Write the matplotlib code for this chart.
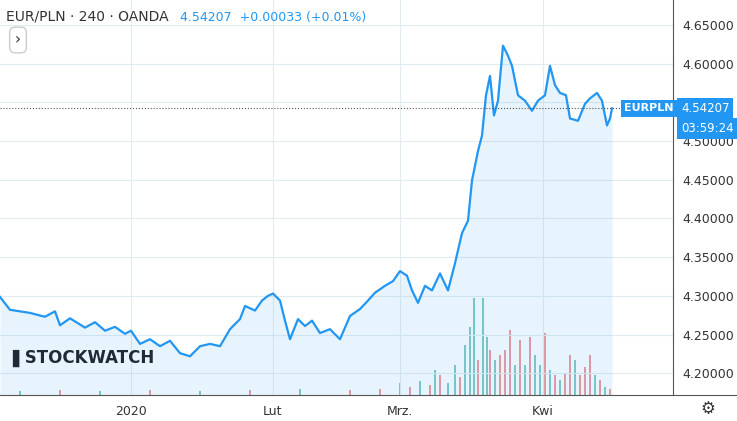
import matplotlib.pyplot as plt
import numpy as np

# 4h-bar index and EUR/PLN close
bar_idx = [0, 10, 30, 45, 55, 60, 70, 85, 95, 105, 115, 125, 131, 140, 150, 160, 170, 180, 190, 200,
           210, 220, 230, 240, 245, 255, 262, 268, 273, 280, 285, 290, 298, 305, 312, 320, 330, 340, 350, 360,
           368, 375, 385, 393, 400, 407, 412, 418, 425, 432, 440, 448, 455, 462, 468, 472, 478, 482, 486, 490,
           494, 498, 503, 508, 512, 518, 525, 532, 538, 545, 550, 555, 560, 566, 570, 578, 585, 590, 597, 602,
           607, 610, 612]
price = [4.2986, 4.282, 4.278, 4.273, 4.280, 4.262, 4.271, 4.259, 4.266, 4.255, 4.260, 4.251, 4.255, 4.238, 4.244, 4.235, 4.242, 4.226, 4.222, 4.235,
         4.238, 4.235, 4.257, 4.270, 4.287, 4.281, 4.294, 4.300, 4.303, 4.294, 4.268, 4.244, 4.270, 4.261, 4.268, 4.252, 4.257, 4.244, 4.274, 4.283,
         4.294, 4.304, 4.313, 4.319, 4.332, 4.326, 4.307, 4.291, 4.313, 4.307, 4.329, 4.307, 4.342, 4.381, 4.397, 4.449, 4.487, 4.507, 4.559, 4.584,
         4.533, 4.552, 4.623, 4.610, 4.597, 4.559, 4.552, 4.539, 4.552, 4.559, 4.597, 4.572, 4.562, 4.559, 4.529, 4.526, 4.548, 4.555, 4.562, 4.552,
         4.520, 4.529, 4.54207]

# volume (arbitrary units) and candle direction (1 up / 0 down)
vol_idx = [20, 60, 100, 150, 200, 250, 300, 350, 380, 400, 410, 420, 430, 435, 440, 448, 455, 460, 465, 470,
           474, 478, 483, 487, 490, 495, 500, 505, 510, 515, 520, 525, 530, 535, 540, 545, 550, 555, 560, 565,
           570, 575, 580, 585, 590, 595, 600, 605, 610]
volume = [4, 5, 4, 5, 4, 5, 6, 5, 6, 12, 8, 14, 10, 25, 20, 12, 30, 18, 50, 68,
          97, 35, 97, 58, 45, 35, 40, 45, 65, 30, 55, 30, 58, 40, 30, 62, 25, 20, 15, 22,
          40, 35, 20, 28, 40, 20, 15, 8, 6]
vol_up = [1, 0, 1, 0, 1, 0, 1, 0, 0, 1, 0, 1, 0, 1, 0, 1, 1, 0, 1, 1,
          1, 0, 1, 1, 0, 1, 0, 0, 0, 1, 0, 1, 0, 1, 1, 0, 1, 0, 1, 0,
          0, 1, 0, 0, 0, 1, 0, 1, 0]

month_pos = [131, 273, 400, 543]
month_labels = ['2020', 'Lut', 'Mrz.', 'Kwi']
y_ticks = [4.20, 4.25, 4.30, 4.35, 4.40, 4.45, 4.50, 4.55, 4.60, 4.65]

blue = '#2196f3'
fig = plt.figure(figsize=(7.37, 4.21), dpi=100)
ax = fig.add_axes([0, 26 / 421, 673 / 737, 395 / 421])
ymin, ymax = 4.172, 4.682
ax.set_xlim(0, 673)
ax.set_ylim(ymin, ymax)

# volume on its own scale
axv = ax.twinx()
axv.set_ylim(0, 395)
axv.set_yticks([])
axv.bar(vol_idx, volume, width=2.2,
        color=['#80cbc4' if u else '#ef9a9a' for u in vol_up], zorder=1)
for s in axv.spines.values():
    s.set_visible(False)

ax.fill_between(bar_idx, price, ymin, color=blue, alpha=0.1, lw=0, zorder=2)
ax.plot(bar_idx, price, color=blue, lw=1.6, zorder=3)
ax.set_zorder(axv.get_zorder() + 1)
ax.patch.set_visible(False)

ax.set_yticks(y_ticks)
ax.yaxis.tick_right()
ax.set_yticklabels([f'{t:.5f}' if t != 4.55 else '' for t in y_ticks], fontsize=9, color='#333333')
ax.set_xticks(month_pos)
ax.set_xticklabels(month_labels, fontsize=9, color='#333333')
ax.tick_params(length=0, pad=7)
ax.grid(color='#e1ecf2', lw=0.8)
for s in ['top', 'left', 'bottom']:
    ax.spines[s].set_visible(False)
ax.spines['right'].set_color('#555555')
fig.add_artist(plt.Line2D([0, 1], [26 / 421, 26 / 421], color='#555555', lw=0.8))

# last price line and tags
last = price[-1]
ax.axhline(last, color='#555555', ls=':', lw=0.8, zorder=4)
ax.text(624, last, 'EURPLN', color='white', fontsize=8, ha='left', va='center', fontweight='bold',
        bbox=dict(boxstyle='square,pad=0.3', fc=blue, ec='none'), zorder=5, clip_on=False)
ax.text(681, last, f'{last:.5f}', color='white', fontsize=8.5, ha='left', va='center',
        bbox=dict(boxstyle='square,pad=0.3', fc=blue, ec='none'), zorder=5, clip_on=False)
ax.text(681, last - 0.026, '03:59:24', color='white', fontsize=8.5, ha='left', va='center',
        bbox=dict(boxstyle='square,pad=0.3', fc=blue, ec='none'), zorder=5, clip_on=False)

# header
fig.text(6 / 737, 1 - 17 / 421, 'EUR/PLN · 240 · OANDA', fontsize=10, color='#333333', va='center')
fig.text(180 / 737, 1 - 17 / 421, '4.54207  +0.00033 (+0.01%)', fontsize=9, color=blue, va='center')
fig.text(18 / 737, 1 - 40 / 421, '›', fontsize=11, color='#333333', ha='center', va='center',
         bbox=dict(boxstyle='round,pad=0.35', fc='white', ec='#cccccc'))
fig.text(12 / 737, 1 - 358 / 421, '▌STOCKWATCH', fontsize=12, fontweight='bold', color='#1f2a36',
         va='center')
fig.text(708 / 737, 12 / 421, '⚙', fontsize=12, color='#333333', ha='center', va='center')

plt.savefig('out.png', dpi=100)
